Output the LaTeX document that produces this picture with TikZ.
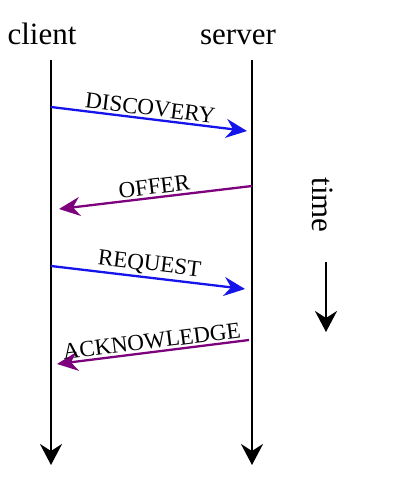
\documentclass[tikz,border=0pt]{standalone}
\usepackage{fontspec}
\setmainfont{Liberation Serif}
\usetikzlibrary{arrows.meta}
\definecolor{msgblue}{RGB}{20,20,235}
\definecolor{msgpurple}{RGB}{125,0,125}
\begin{document}
\begin{tikzpicture}[x=1pt,y=-1pt,
  lifeline/.style={line width=2.3pt,-{Stealth[length=21pt,width=22pt,inset=7pt]}},
  msg/.style={line width=2.3pt,-{Stealth[length=21pt,width=19pt,inset=7pt]}},
  msglabel/.style={font=\fontsize{23}{23}\selectfont,sloped,above,inner sep=2pt,pos=0.5},
  head/.style={font=\fontsize{31}{31}\selectfont,anchor=base,inner sep=0pt}]
\useasboundingbox (0,0) rectangle (403,495);
\node[head] (client) at (42,45) {client};
\node[head] (server) at (238,45) {server};
\coordinate (c0) at (51,60);
\coordinate (c1) at (51,465);
\coordinate (s0) at (252,60);
\coordinate (s1) at (252,465);
\draw[lifeline] (c0) -- (c1);
\draw[lifeline] (s0) -- (s1);
\coordinate (d0) at (51,107);  \coordinate (d1) at (247,131);
\coordinate (o0) at (252,186); \coordinate (o1) at (59,209);
\coordinate (r0) at (51,266);  \coordinate (r1) at (245,289);
\coordinate (a0) at (249,340); \coordinate (a1) at (57,364);
\draw[msg,msgblue] (d0) -- node[msglabel,text=black] (dl) {DISCOVERY} (d1);
\draw[msg,msgpurple] (o0) -- node[msglabel,text=black] (ol) {OFFER} (o1);
\draw[msg,msgblue] (r0) -- node[msglabel,text=black] (rl) {REQUEST} (r1);
\draw[msg,msgpurple] (a0) -- node[msglabel,text=black] (al) {ACKNOWLEDGE} (a1);
\node[head,anchor=center,rotate=-90] (time) at (323,205) {time};
\coordinate (t0) at (326,262);
\coordinate (t1) at (326,332);
\draw[lifeline] (t0) -- (t1);
\end{tikzpicture}
\end{document}
